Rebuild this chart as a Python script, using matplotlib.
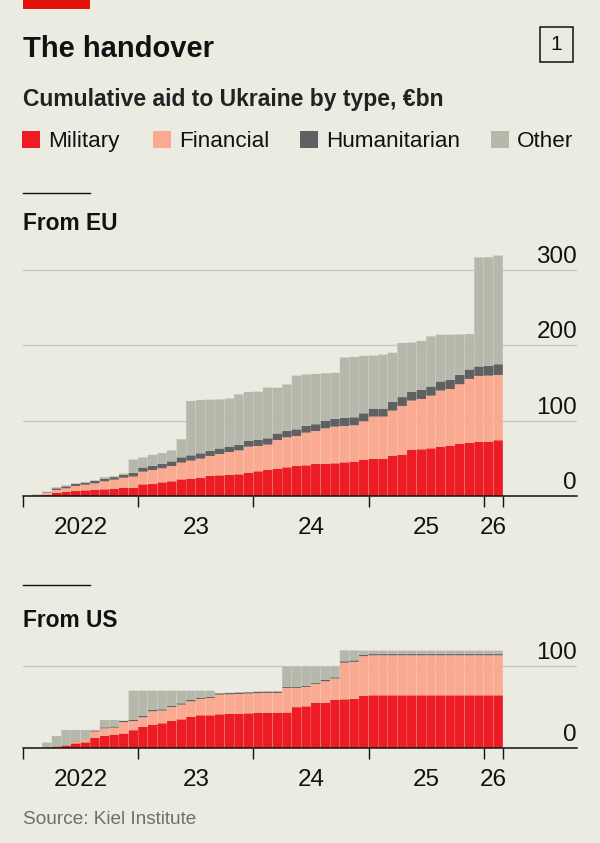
import numpy as np
import matplotlib.pyplot as plt
from matplotlib.patches import Rectangle
from matplotlib.lines import Line2D

plt.rcParams['font.family'] = ['Liberation Sans', 'DejaVu Sans']

# months counted from Jan 2022; bars run Feb 2022 .. Feb 2026
months = np.arange(1, 50)
year_edges = [0, 12, 24, 36, 48, 50]
year_mids = [6, 18, 30, 42, 49]
year_labels = ['2022', '23', '24', '25', '26']

types = ['Military', 'Financial', 'Humanitarian', 'Other']
colors = ['#ED1C24', '#F9AA91', '#5F6062', '#B7B8AC']

# cumulative aid from EU, €bn
eu_military = [0.5, 1.5, 4.4, 5.3, 6.6, 7.5, 8.4, 8.9, 9.7, 11.0, 11.0, 15.5, 15.9,
               18.1, 19.5, 22.1, 23.0, 23.9, 26.6, 27.4, 27.9, 28.8, 31.0, 32.8,
               34.5, 36.3, 38.1, 39.8, 40.7, 42.5, 42.5, 43.4, 44.7, 45.6, 47.8,
               49.1, 49.1, 53.6, 54.9, 61.1, 62.0, 63.3, 65.5, 66.8, 69.0, 70.4,
               71.7, 71.7, 74.0]
eu_financial = [0.5, 2.5, 3.6, 4.9, 6.7, 7.5, 8.4, 10.6, 12.0, 13.3, 14.7, 16.8, 18.6,
                18.6, 20.3, 22.2, 23.9, 25.7, 26.5, 28.4, 30.5, 31.8, 34.5, 33.6,
                33.7, 38.1, 39.8, 39.9, 43.4, 43.8, 47.4, 48.7, 48.3, 48.3, 51.4,
                56.3, 56.3, 59.7, 64.6, 65.5, 66.8, 69.9, 74.4, 75.2, 79.3, 85.0,
                87.7, 88.1, 86.7]
eu_humanitarian = [0.3, 0.8, 2.2, 2.6, 2.6, 2.7, 3.1, 3.3, 3.3, 4.0, 5.0, 5.5, 5.5,
                   6.2, 6.2, 7.0, 7.1, 7.1, 7.1, 7.3, 7.3, 7.5, 7.5, 8.0, 8.4, 8.6,
                   8.6, 8.8, 9.0, 9.0, 9.7, 10.4, 10.6, 10.6, 10.6, 10.6, 10.6, 11.8,
                   11.8, 12.0, 12.0, 12.2, 12.2, 12.2, 12.6, 12.6, 12.6, 12.8, 14.2]
eu_other = [0.9, 1.0, 1.3, 1.4, 0.9, 0.9, 0.9, 2.2, 1.3, 1.7, 17.7, 13.3, 14.7, 14.1,
            14.6, 24.0, 72.2, 70.8, 67.7, 65.1, 63.7, 66.8, 65.1, 64.1, 67.3, 60.7,
            61.6, 71.3, 68.2, 66.8, 63.3, 61.1, 80.2, 80.1, 76.2, 70.4, 71.7, 65.1,
            71.8, 65.1, 65.0, 66.5, 62.0, 60.0, 53.6, 46.9, 144.7, 144.4, 144.3]

# cumulative aid from US, €bn
us_military = [0, 0, 2.0, 3.2, 6.0, 7.3, 12.5, 15.0, 16.6, 18.0, 22.0, 26.0, 28.4,
               30.4, 33.2, 35.2, 38.1, 40.1, 40.1, 41.3, 42.0, 42.0, 42.5, 43.3,
               43.3, 43.3, 43.5, 50.0, 51.0, 55.5, 55.5, 58.7, 59.5, 60.0, 63.6] + [64.4] * 14
us_financial = [0, 0, 0, 0, 2.5, 2.7, 7.8, 9.3, 8.5, 13.8, 11.0, 11.7, 16.6, 15.4,
                17.0, 17.9, 19.0, 19.9, 21.1, 23.9, 23.5, 24.0, 24.0, 23.7, 24.0,
                24.0, 29.9, 23.4, 23.6, 22.8, 26.0, 26.1, 44.5, 45.0, 48.4] + [48.6] * 14
us_humanitarian = ([0, 0.3, 0.3, 0.4, 0.5, 0.5, 1.2, 1.2, 1.4, 1.4, 1.4] + [1.6] * 15
                   + [1.5] * 6 + [1.8, 1.8, 1.5] + [1.5] * 14)
us_other = [0, 6.7, 12.7, 18.7, 13.3, 11.8, 1.0, 8.9, 7.9, 0.4, 35.7, 30.8, 23.5,
            22.7, 18.3, 15.4, 11.4, 8.5, 7.3, 0.5, 0.5, 0.5, 0.5, 0.5, 0.5, 0.5,
            24.3, 24.3, 23.1, 19.4, 16.2, 12.9, 13.2, 12.2, 5.2] + [4.2] * 14

BG = '#ECEBE1'
GRID = '#C9C8BE'
INK = '#121212'
W, H = 600, 843

fig = plt.figure(figsize=(W / 100, H / 100), dpi=100, facecolor=BG)


def fx(x):
    return x / W


def fy(y):
    return 1 - y / H


def panel(top, bottom, ymax, grid, stacks):
    ax = fig.add_axes([fx(23), fy(bottom), fx(577) - fx(23), fy(top) - fy(bottom)])
    ax.set_facecolor(BG)
    ax.set_xlim(0, 57.7)
    ax.set_ylim(0, ymax)

    # stacked monthly columns, hairline gap between months
    base = np.zeros(len(months))
    for vals, c in zip(stacks, colors):
        bars = ax.bar(months, vals, width=0.975, bottom=base, align='edge',
                      color=c, linewidth=0, zorder=2)
        for b in bars:
            b.set_snap(False)
        base = base + np.array(vals)

    for g in grid:
        ax.axhline(g, color=GRID, lw=0.9, zorder=1)
    for v in [0] + grid:
        ax.annotate(str(v), xy=(1, v), xycoords=('axes fraction', 'data'),
                    xytext=(0, 5), textcoords='offset points',
                    ha='right', va='baseline', fontsize=17.5, color=INK)

    for s in ['left', 'right', 'top']:
        ax.spines[s].set_visible(False)
    ax.spines['bottom'].set_linewidth(1.1)
    ax.spines['bottom'].set_color(INK)
    ax.spines['bottom'].set_zorder(3)

    ax.set_yticks([])
    ax.set_xticks(year_edges)
    ax.set_xticklabels([])
    ax.set_xticks(year_mids, minor=True)
    ax.set_xticklabels(year_labels, minor=True)
    ax.tick_params(axis='x', which='major', length=7.7, width=1.0, color=INK)
    ax.tick_params(axis='x', which='minor', length=0, pad=15,
                   labelsize=17.5, labelcolor=INK)
    return ax


# header
fig.add_artist(Rectangle((fx(23), fy(9)), 67 / W, 9 / H, transform=fig.transFigure,
                         color='#E3120B', lw=0))
fig.text(fx(23), fy(57), 'The handover', fontsize=21, fontweight='bold',
         color=INK, va='baseline')
fig.add_artist(Rectangle((fx(540), fy(62)), 33 / W, 35 / H, transform=fig.transFigure,
                         fill=False, lw=1.1, edgecolor=INK))
fig.text(fx(556.5), fy(44.5), '1', fontsize=15, color=INK, ha='center', va='center')
fig.text(fx(23), fy(106), 'Cumulative aid to Ukraine by type, €bn', fontsize=16.5,
         fontweight='bold', color='#222222', va='baseline')

# legend
legend_x = [22, 153, 300, 491]
for lx, name, c in zip(legend_x, types, colors):
    fig.add_artist(Rectangle((fx(lx), fy(148)), 18 / W, 17 / H,
                             transform=fig.transFigure, color=c, lw=0))
    fig.text(fx(lx + 26), fy(147), name, fontsize=16.2, color=INK, va='baseline')

# EU panel
fig.add_artist(Line2D([fx(23), fx(90)], [fy(193), fy(193)], transform=fig.transFigure,
                      color=INK, lw=1.0))
fig.text(fx(23), fy(230), 'From EU', fontsize=16.4, fontweight='bold',
         color=INK, va='baseline')
panel(496 - 330 * 0.7533, 496, 330, [100, 200, 300],
      [eu_military, eu_financial, eu_humanitarian, eu_other])

# US panel
fig.add_artist(Line2D([fx(23), fx(90)], [fy(585), fy(585)], transform=fig.transFigure,
                      color=INK, lw=1.0))
fig.text(fx(23), fy(627), 'From US', fontsize=16.4, fontweight='bold',
         color=INK, va='baseline')
panel(748.3 - 125 * 0.823, 748.3, 125, [100],
      [us_military, us_financial, us_humanitarian, us_other])

fig.text(fx(23), fy(824), 'Source: Kiel Institute', fontsize=13.7, color='#6E6E6E',
         va='baseline')

fig.savefig('out.png', dpi=100, facecolor=BG)
